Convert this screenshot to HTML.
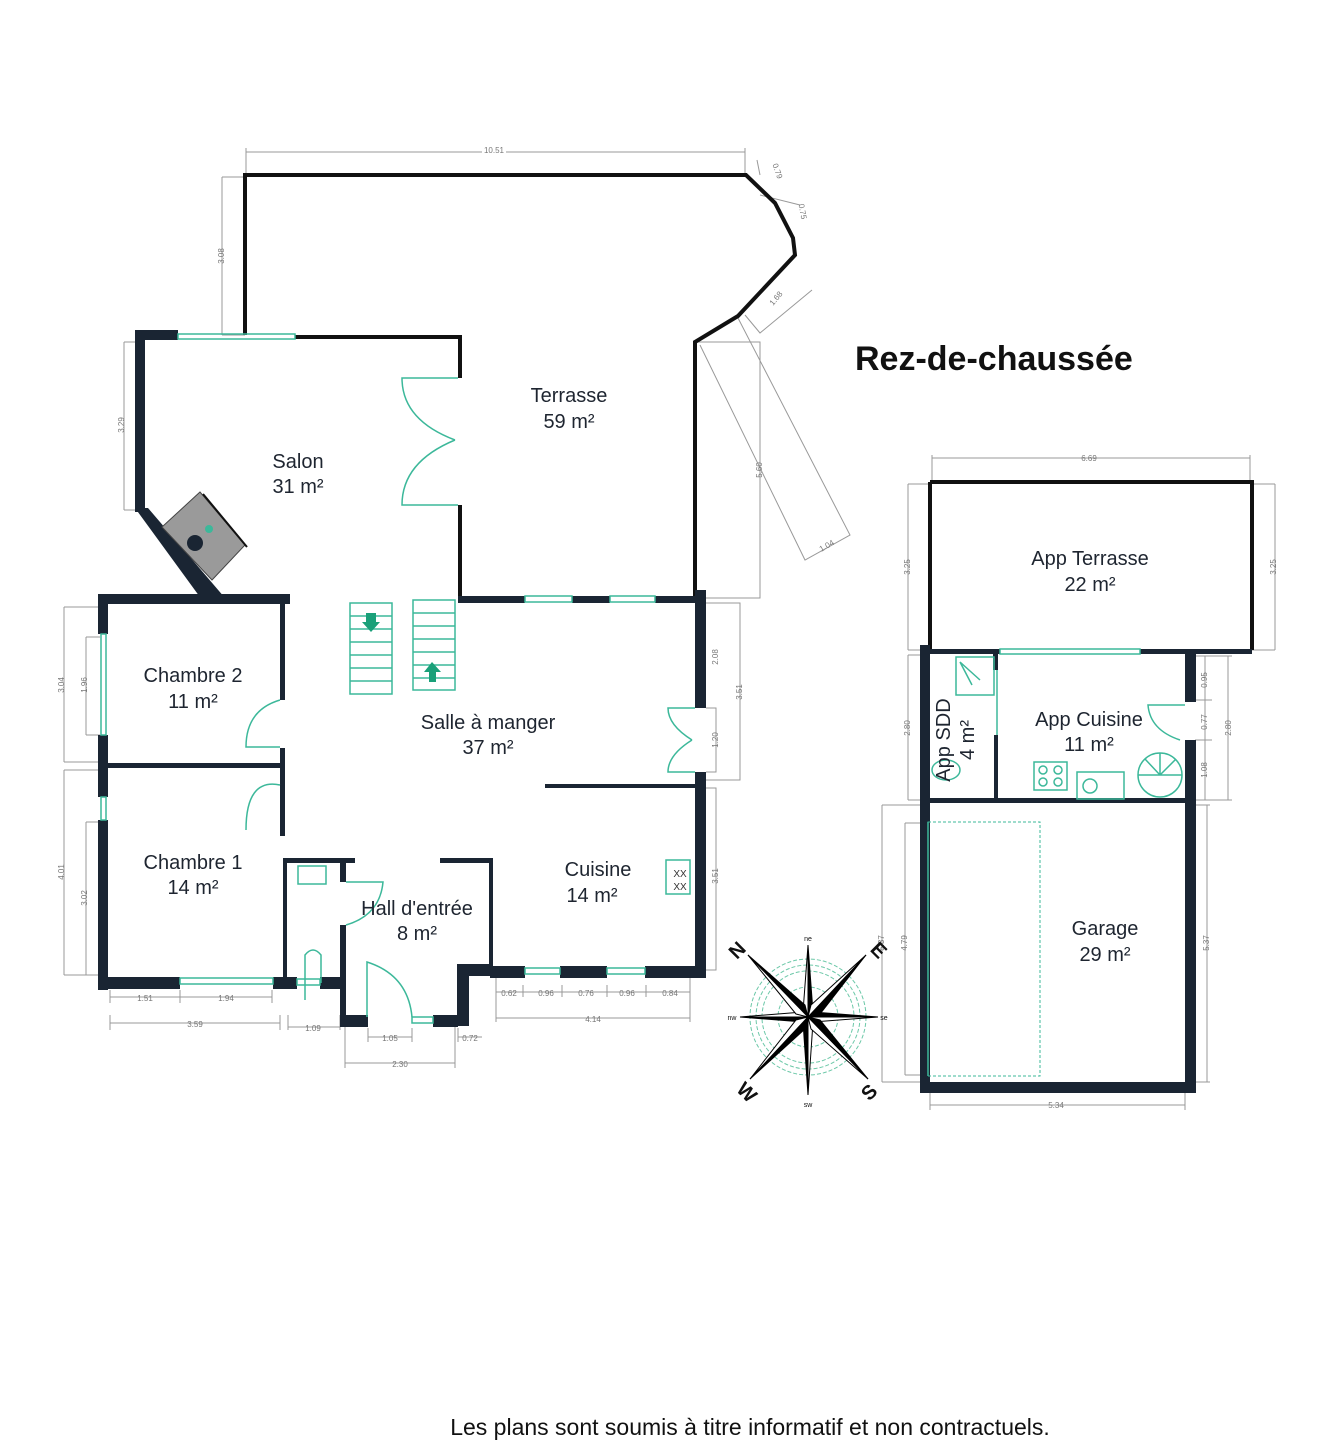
<!DOCTYPE html>
<html><head><meta charset="utf-8"><style>
html,body{margin:0;padding:0;background:#fff;}
svg{display:block;}
text{font-family:"Liberation Sans",sans-serif;}
.lbl{font-size:20px;fill:#1e2530;text-anchor:middle;}
.dim{font-size:8px;fill:#777;text-anchor:middle;}
</style></head><body>
<svg width="1335" height="1440" viewBox="0 0 1335 1440" xmlns="http://www.w3.org/2000/svg">
<rect width="1335" height="1440" fill="#fff"/>
<g stroke="#999" stroke-width="1" fill="none">
<path d="M246 152H745 M246 148V175 M745 148V175"/>
<path d="M222 177V335 M222 177H245 M222 335H245"/>
<path d="M124 342V510 M124 342H140 M124 510H140"/>
<path d="M757 160L760 175 M760 195L800 205 M745 315L760 333L812 290"/>
<path d="M695 342H760V598H700"/>
<path d="M700 345L805 560L850 535L738 318"/>
<path d="M64 607V762 M64 607H100 M64 762H100 M86 637V735 M86 637H100 M86 735H100"/>
<path d="M64 770V975 M64 770H100 M64 975H100 M86 822V975 M86 822H100"/>
<path d="M110 997H272 M110 990V1003 M180 990V1003 M272 990V1003"/>
<path d="M110 1023H280 M110 1015V1030 M280 1015V1030"/>
<path d="M288 1027H340 M288 1015V1030 M340 1015V1030"/>
<path d="M368 1037H412 M368 1028V1042 M412 1028V1042 M458 1037H482 M458 1028V1042"/>
<path d="M345 1063H455 M345 1025V1068 M455 1025V1068"/>
<path d="M496 992H690 M496 985V997 M523 985V997 M562 985V997 M607 985V997 M646 985V997 M690 985V997"/>
<path d="M496 1018H690 M496 975V1022 M690 975V1022"/>
<path d="M706 603H740V780H706 M706 708H716V772H706 M706 788H716V970H706"/>
<path d="M932 458H1250 M932 455V482 M1250 455V482"/>
<path d="M908 484V650 M908 484H930 M908 650H925 M1275 484V650 M1252 484H1275 M1252 650H1275"/>
<path d="M908 655V800 M908 655H925 M908 800H925"/>
<path d="M1205 656V800 M1195 656H1212 M1195 700H1212 M1195 740H1212 M1195 800H1212 M1228 656V800 M1210 656H1232 M1210 800H1232"/>
<path d="M882 805V1082 M882 805H925 M882 1082H925 M905 823V1075 M905 823H925 M905 1075H925"/>
<path d="M1207 805V1082 M1190 805H1210 M1190 1082H1210"/>
<path d="M930 1105H1185 M930 1092V1110 M1185 1092V1110"/>
</g>
<g class="dim">
<rect x="482" y="144" width="24" height="10" fill="#fff"/><text x="494" y="153">10.51</text>
<text x="224" y="256" transform="rotate(-90 224 256)">3.08</text>
<text x="124" y="425" transform="rotate(-90 124 425)">3.29</text>
<text x="775" y="172" transform="rotate(70 775 172)">0.79</text>
<text x="800" y="212" transform="rotate(80 800 212)">0.75</text>
<text x="778" y="300" transform="rotate(-50 778 300)">1.68</text>
<text x="762" y="470" transform="rotate(-90 762 470)">5.60</text>
<text x="828" y="548" transform="rotate(-30 828 548)">1.04</text>
<text x="64" y="685" transform="rotate(-90 64 685)">3.04</text>
<text x="87" y="685" transform="rotate(-90 87 685)">1.96</text>
<text x="64" y="872" transform="rotate(-90 64 872)">4.01</text>
<text x="87" y="898" transform="rotate(-90 87 898)">3.02</text>
<text x="145" y="1001">1.51</text><text x="226" y="1001">1.94</text>
<text x="195" y="1027">3.59</text><text x="313" y="1031">1.09</text>
<text x="390" y="1041">1.05</text><text x="470" y="1041">0.72</text>
<text x="400" y="1067">2.30</text>
<text x="509" y="996">0.62</text><text x="546" y="996">0.96</text><text x="586" y="996">0.76</text><text x="627" y="996">0.96</text><text x="670" y="996">0.84</text>
<text x="593" y="1022">4.14</text>
<text x="718" y="657" transform="rotate(-90 718 657)">2.08</text>
<text x="742" y="692" transform="rotate(-90 742 692)">3.51</text>
<text x="718" y="740" transform="rotate(-90 718 740)">1.20</text>
<text x="718" y="876" transform="rotate(-90 718 876)">3.51</text>
<text x="1089" y="461">6.69</text>
<text x="910" y="567" transform="rotate(-90 910 567)">3.25</text>
<text x="1276" y="567" transform="rotate(-90 1276 567)">3.25</text>
<text x="910" y="728" transform="rotate(-90 910 728)">2.80</text>
<text x="1207" y="680" transform="rotate(-90 1207 680)">0.95</text>
<text x="1207" y="722" transform="rotate(-90 1207 722)">0.77</text>
<text x="1207" y="770" transform="rotate(-90 1207 770)">1.08</text>
<text x="1231" y="728" transform="rotate(-90 1231 728)">2.80</text>
<text x="884" y="943" transform="rotate(-90 884 943)">5.37</text>
<text x="907" y="943" transform="rotate(-90 907 943)">4.79</text>
<text x="1209" y="943" transform="rotate(-90 1209 943)">5.37</text>
<text x="1056" y="1108">5.34</text>
</g>
<g stroke="#111" stroke-width="4" fill="none">
<path d="M245 335V175H746L775 203L793 238L795 255L738 316L695 342V598"/>
<path d="M295 337H460V378 M460 505V600"/>
<path d="M930 482H1252V650 M930 482V650"/>
</g>
<g fill="#1a2533">
<rect x="135" y="330" width="43" height="10"/>
<rect x="135" y="330" width="10" height="182"/>
<polygon points="135,508 148,508 225,598 205,604"/>
<rect x="98" y="594" width="192" height="10"/>
<rect x="458" y="596" width="67" height="7"/>
<rect x="572" y="596" width="38" height="7"/>
<rect x="655" y="596" width="45" height="7"/>
<rect x="98" y="594" width="10" height="40"/>
<rect x="98" y="735" width="10" height="62"/>
<rect x="98" y="820" width="10" height="170"/>
<rect x="98" y="763" width="185" height="5"/>
<rect x="280" y="600" width="5" height="100"/>
<rect x="280" y="748" width="5" height="88"/>
<rect x="283" y="858" width="4" height="128"/>
<rect x="98" y="977" width="82" height="12"/>
<rect x="273" y="977" width="24" height="12"/>
<rect x="320" y="977" width="22" height="12"/>
<rect x="283" y="858" width="72" height="5"/>
<rect x="340" y="858" width="6" height="24"/>
<rect x="340" y="925" width="6" height="102"/>
<rect x="345" y="1015" width="23" height="12"/>
<rect x="433" y="1015" width="25" height="12"/>
<rect x="457" y="964" width="12" height="62"/>
<rect x="457" y="964" width="36" height="12"/>
<rect x="440" y="858" width="52" height="5"/>
<rect x="489" y="858" width="4" height="110"/>
<rect x="490" y="966" width="35" height="12"/>
<rect x="560" y="966" width="47" height="12"/>
<rect x="645" y="966" width="60" height="12"/>
<rect x="695" y="590" width="11" height="118"/>
<rect x="695" y="772" width="11" height="206"/>
<rect x="545" y="784" width="155" height="4"/>
<rect x="920" y="645" width="10" height="448"/>
<rect x="925" y="649" width="75" height="5"/>
<rect x="1140" y="649" width="112" height="5"/>
<rect x="993" y="650" width="5" height="20"/>
<rect x="994" y="735" width="4" height="66"/>
<rect x="1185" y="652" width="11" height="50"/>
<rect x="1185" y="740" width="11" height="353"/>
<rect x="920" y="798" width="276" height="5"/>
<rect x="920" y="1082" width="276" height="11"/>
</g>
<g stroke="#3cb89a" stroke-width="1.5" fill="none">
<rect x="178" y="334" width="117" height="5"/>
<rect x="525" y="596" width="47" height="6"/>
<rect x="610" y="596" width="45" height="6"/>
<rect x="101" y="634" width="5" height="101"/>
<rect x="101" y="797" width="5" height="23"/>
<rect x="180" y="978" width="93" height="6"/>
<rect x="297" y="979" width="23" height="6"/>
<rect x="412" y="1017" width="21" height="6"/>
<rect x="525" y="968" width="35" height="6"/>
<rect x="607" y="968" width="38" height="6"/>
<rect x="1000" y="649" width="140" height="5"/>
<path d="M997 670V735"/>
<path d="M928 822V1076"/>
<rect x="928" y="822" width="112" height="254" stroke-dasharray="3 2" stroke-width="1"/>
<path d="M458 378H402Q402 420 455 440 M458 505H402Q402 462 455 440"/>
<path d="M280 700Q246 710 246 747H280 M280 785Q246 778 246 830"/>
<path d="M346 882H383Q380 915 346 925"/>
<path d="M367 1017V962Q408 975 412 1017"/>
<path d="M695 708H668Q668 725 692 740 M695 772H668Q668 755 692 740"/>
<path d="M1185 705H1148Q1150 730 1180 740"/>
<rect x="350" y="603" width="42" height="91"/>
<path d="M350 616H392 M350 629H392 M350 642H392 M350 655H392 M350 668H392 M350 681H392"/>
<rect x="413" y="600" width="42" height="90"/>
<path d="M413 613H455 M413 626H455 M413 639H455 M413 652H455 M413 665H455 M413 678H455"/>
<rect x="298" y="866" width="28" height="18"/>
<path d="M305 1000V955Q313 945 321 955V983"/>
<rect x="666" y="860" width="24" height="34"/>
<rect x="956" y="657" width="38" height="38"/>
<path d="M960 662L980 680 M960 662L972 685"/>
<ellipse cx="946" cy="770" rx="14" ry="10"/>
<rect x="1034" y="762" width="33" height="28"/>
<circle cx="1043" cy="770" r="4"/><circle cx="1058" cy="770" r="4"/><circle cx="1043" cy="782" r="4"/><circle cx="1058" cy="782" r="4"/>
<rect x="1077" y="772" width="47" height="27"/>
<circle cx="1090" cy="786" r="7"/>
<circle cx="1160" cy="775" r="22"/>
<path d="M1160 775L1138 775 M1160 775L1145 759 M1160 775L1160 753 M1160 775L1176 759 M1160 775L1182 775"/>
</g>
<polygon points="366,613 376,613 376,622 380,622 371,632 362,622 366,622" fill="#1aa079"/>
<polygon points="429,682 436,682 436,672 441,672 432,662 424,672 429,672" fill="#1aa079"/>
<text x="680" y="877" font-size="10" fill="#333" text-anchor="middle">XX</text>
<text x="680" y="890" font-size="10" fill="#333" text-anchor="middle">XX</text>
<polygon points="162,527 200,492 245,545 212,580" fill="#9a9a9a" stroke="#444" stroke-width="1"/>
<path d="M203 494L247 547" stroke="#111" stroke-width="2"/>
<circle cx="195" cy="543" r="8" fill="#1a2533"/>
<circle cx="209" cy="529" r="4" fill="#3cb89a"/>
<g transform="translate(808,1017)">
<g fill="none" stroke="#6cc8a8" stroke-width="1" stroke-dasharray="4 2">
<circle r="58"/><circle r="52"/><circle r="46"/><circle r="30"/>
</g>
<g stroke="#000" stroke-width="1">
<polygon points="0,-72 5,-5 0,0" fill="#000"/><polygon points="0,-72 -5,-5 0,0" fill="#fff"/>
<polygon points="0,78 -5,5 0,0" fill="#000"/><polygon points="0,78 5,5 0,0" fill="#fff"/>
<polygon points="-68,0 -5,-5 0,0" fill="#fff"/><polygon points="-68,0 -5,5 0,0" fill="#000"/>
<polygon points="70,0 5,5 0,0" fill="#fff"/><polygon points="70,0 5,-5 0,0" fill="#000"/>
<polygon points="-60,-62 -3,-12 0,0" fill="#000"/><polygon points="-60,-62 -12,-3 0,0" fill="#fff"/>
<polygon points="58,-62 12,-3 0,0" fill="#000"/><polygon points="58,-62 3,-12 0,0" fill="#fff"/>
<polygon points="-58,62 -12,3 0,0" fill="#fff"/><polygon points="-58,62 -3,12 0,0" fill="#000"/>
<polygon points="60,62 3,12 0,0" fill="#fff"/><polygon points="60,62 12,3 0,0" fill="#000"/>
</g>
<g font-family="Liberation Serif" font-weight="bold" font-size="20" fill="#111" text-anchor="middle">
<text x="-66" y="-62" transform="rotate(-45 -66 -62)">N</text>
<text x="66" y="-62" transform="rotate(45 66 -62)">E</text>
<text x="-66" y="80" transform="rotate(45 -66 80)">W</text>
<text x="66" y="80" transform="rotate(-45 66 80)">S</text>
</g>
<g font-size="7" fill="#111" text-anchor="middle"><text y="-76">ne</text><text y="90">sw</text><text x="-76" y="3">nw</text><text x="76" y="3">se</text></g>
</g>
<text class="lbl" x="569" y="402">Terrasse</text><text class="lbl" x="569" y="428">59 m²</text>
<text class="lbl" x="298" y="468">Salon</text><text class="lbl" x="298" y="493">31 m²</text>
<text class="lbl" x="193" y="682">Chambre 2</text><text class="lbl" x="193" y="708">11 m²</text>
<text class="lbl" x="488" y="729">Salle à manger</text><text class="lbl" x="488" y="754">37 m²</text>
<text class="lbl" x="193" y="869">Chambre 1</text><text class="lbl" x="193" y="894">14 m²</text>
<text class="lbl" x="598" y="876">Cuisine</text><text class="lbl" x="592" y="902">14 m²</text>
<text class="lbl" x="417" y="915">Hall d'entrée</text><text class="lbl" x="417" y="940">8 m²</text>
<text class="lbl" x="1090" y="565">App Terrasse</text><text class="lbl" x="1090" y="591">22 m²</text>
<text class="lbl" x="1089" y="726">App Cuisine</text><text class="lbl" x="1089" y="751">11 m²</text>
<text class="lbl" x="950" y="740" transform="rotate(-90 950 740)">App SDD</text>
<text class="lbl" x="974" y="740" transform="rotate(-90 974 740)">4 m²</text>
<text class="lbl" x="1105" y="935">Garage</text><text class="lbl" x="1105" y="961">29 m²</text>
<text x="855" y="370" font-size="34" font-weight="bold" fill="#111">Rez-de-chaussée</text>
<text x="750" y="1435" font-size="23" fill="#111" text-anchor="middle">Les plans sont soumis à titre informatif et non contractuels.</text>
</svg>
</body></html>
